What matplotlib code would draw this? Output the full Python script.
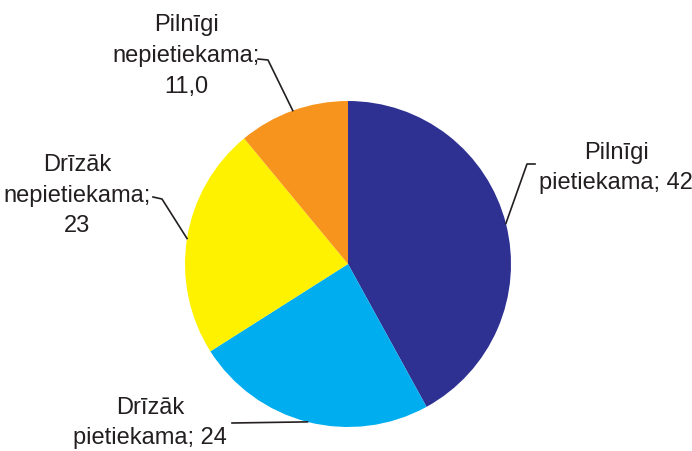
import numpy as np
import matplotlib.pyplot as plt

plt.rcParams['font.family'] = ['Liberation Sans', 'DejaVu Sans']

labels = ["Pilnīgi\npietiekama; 42", "Drīzāk\npietiekama; 24",
          "Drīzāk\nnepietiekama;\n23", "Pilnīgi\nnepietiekama;\n11,0"]
values = [42, 24, 23, 11]
colors = ['#2e3192', '#00aeef', '#fff200', '#f7941d']

# label placement (pixel coords, y up) and knee of the leader line
label_pos = [(616, 284), (150, 29), (77, 256), (186, 396)]
knee = [[(535, 287), (527, 287)], [(232, 28)], [(153, 254), (162, 252)],
        [(258, 392), (268, 391)]]

W, H = 692, 452
fig = plt.figure(figsize=(W / 100, H / 100), dpi=100)
ax = fig.add_axes([0, 0, 1, 1])

cx, cy, r = 348, 187, 163
wedges, _ = ax.pie(values, colors=colors, startangle=90, counterclock=False,
                   center=(cx, cy), radius=r, frame=True)
ax.set_xlim(0, W)
ax.set_ylim(0, H)
ax.set_aspect('equal')
ax.axis('off')

for w, lab, pos, kn in zip(wedges, labels, label_pos, knee):
    mid = np.deg2rad((w.theta1 + w.theta2) / 2)
    ex, ey = cx + r * np.cos(mid), cy + r * np.sin(mid)
    pts = kn + [(ex, ey)]
    ax.plot([p[0] for p in pts], [p[1] for p in pts], color='#231f20', lw=1.2)
    ax.text(pos[0], pos[1], lab, ha='center', va='center', fontsize=17,
            color='#231f20', multialignment='center', linespacing=1.5)

fig.savefig('out.png', dpi=100)
